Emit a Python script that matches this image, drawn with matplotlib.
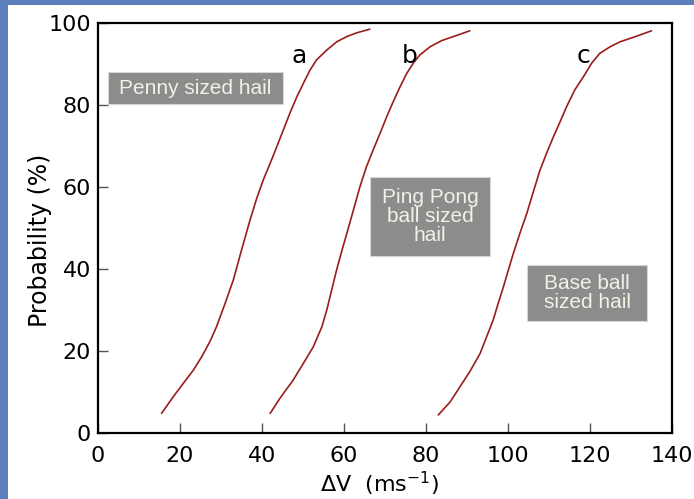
import matplotlib
matplotlib.use("Agg")
import matplotlib.pyplot as plt
from matplotlib.patches import Rectangle

# Curve a (penny sized hail)
a_x = [15.5, 18.4, 20.8, 23.3, 25.3, 27.3, 28.9, 31.0, 33.0, 35.0, 37.1, 38.7, 40.3,
       42.0, 43.6, 45.2, 46.8, 48.5, 50.1, 51.7, 53.3, 55.8, 58.2, 60.7, 63.1, 66.3]
a_y = [4.8, 8.9, 12.1, 15.4, 18.6, 22.3, 25.9, 31.6, 37.3, 44.6, 52.0, 57.2, 61.7,
       65.8, 69.8, 73.9, 78.0, 82.0, 85.3, 88.5, 91.0, 93.4, 95.4, 96.7, 97.6, 98.5]
# Curve b (ping pong ball sized hail)
b_x = [42.0, 44.4, 47.6, 50.1, 52.5, 54.6, 55.8, 57.0, 58.2, 59.4, 60.7, 62.3, 63.9,
       65.5, 67.1, 68.8, 70.4, 72.0, 73.7, 75.3, 76.9, 78.5, 81.0, 83.8, 86.7, 90.7]
b_y = [4.8, 8.5, 12.9, 17.0, 21.0, 25.9, 30.0, 34.9, 39.8, 44.2, 48.7, 54.4, 60.1,
       65.0, 69.0, 73.1, 77.1, 80.8, 84.5, 87.7, 90.2, 92.2, 94.2, 95.7, 96.7, 98.1]
# Curve c (base ball sized hail)
c_x = [83.0, 85.9, 88.3, 90.7, 93.2, 94.8, 96.4, 97.6, 98.9, 100.1, 101.3, 102.9, 104.6,
       106.2, 107.8, 109.4, 111.1, 112.7, 114.3, 116.3, 118.4, 120.4, 122.4, 124.9, 127.3,
       131.4, 135.0]
c_y = [4.4, 7.6, 11.3, 15.0, 19.4, 23.5, 27.6, 31.6, 35.7, 39.8, 43.8, 48.7, 53.6,
       58.9, 64.1, 68.2, 72.3, 75.9, 79.6, 83.7, 86.9, 90.2, 92.6, 94.2, 95.4,
       96.8, 98.1]

curve_labels = ["a", "b", "c"]
x_ticks = [0, 20, 40, 60, 80, 100, 120, 140]
y_ticks = [0, 20, 40, 60, 80, 100]
box_texts = ["Penny sized hail", "Ping Pong\nball sized\nhail", "Base ball\nsized hail"]

W, H = 694, 499
fig = plt.figure(figsize=(W / 100, H / 100), dpi=100)
fig.patch.set_facecolor("#5a7fbc")
fig.add_artist(Rectangle((8 / W, 0), 1 - 8 / W, 1 - 5 / H, transform=fig.transFigure,
                         facecolor="white", edgecolor="none", zorder=0))

ax = fig.add_axes([98 / W, 1 - 433 / H, (672 - 98) / W, (433 - 23) / H])
ax.set_facecolor("white")
ax.set_xlim(0, 140)
ax.set_ylim(0, 100)

line_color = "#9a1c1c"
for xs, ys in [(a_x, a_y), (b_x, b_y), (c_x, c_y)]:
    ax.plot(xs, ys, color=line_color, lw=1.2, solid_capstyle="round",
            solid_joinstyle="round")

label_pos = [(49.0, 90.2), (75.9, 90.2), (118.3, 90.3)]
for lab, (lx, ly) in zip(curve_labels, label_pos):
    ax.text(lx, ly, lab, fontsize=18, ha="center", va="baseline", color="black")

ax.set_xticks(x_ticks)
ax.set_yticks(y_ticks)
ax.set_xticklabels([str(t) for t in x_ticks])
ax.set_yticklabels([str(t) for t in y_ticks])
ax.tick_params(direction="in", length=7, width=1, color="#555555", labelsize=16, pad=5)
ax.tick_params(axis="x", pad=9)
for s in ax.spines.values():
    s.set_linewidth(1.6)
    s.set_color("black")

fig.text(380 / W, 1 - 484 / H, r"$\Delta$V  (ms$^{-1}$)", fontsize=16, ha="center", va="center")
fig.text(40 / W, 1 - 240 / H, "Probability (%)", fontsize=17, ha="center", va="center",
         rotation=90)

# Annotation boxes (data coords)
boxes = [((2.4, 80.2), 42.7, 7.8, (23.8, 84.1)),
         ((66.3, 43.2), 29.3, 19.2, (81.0, 52.8)),
         ((104.6, 27.3), 29.3, 13.7, (119.3, 34.1))]
for txt, ((bx, by), bw, bh, (tx, ty)) in zip(box_texts, boxes):
    ax.add_patch(Rectangle((bx, by), bw, bh, facecolor="#8c8c8c", edgecolor="#d9d7cf",
                           lw=0.8, zorder=3))
    ax.text(tx, ty, txt, fontsize=15, family="Liberation Sans", color="#f3f0e6",
            ha="center", va="center", multialignment="center", linespacing=1.0, zorder=4)

fig.savefig("out.png", dpi=100, facecolor=fig.get_facecolor())
